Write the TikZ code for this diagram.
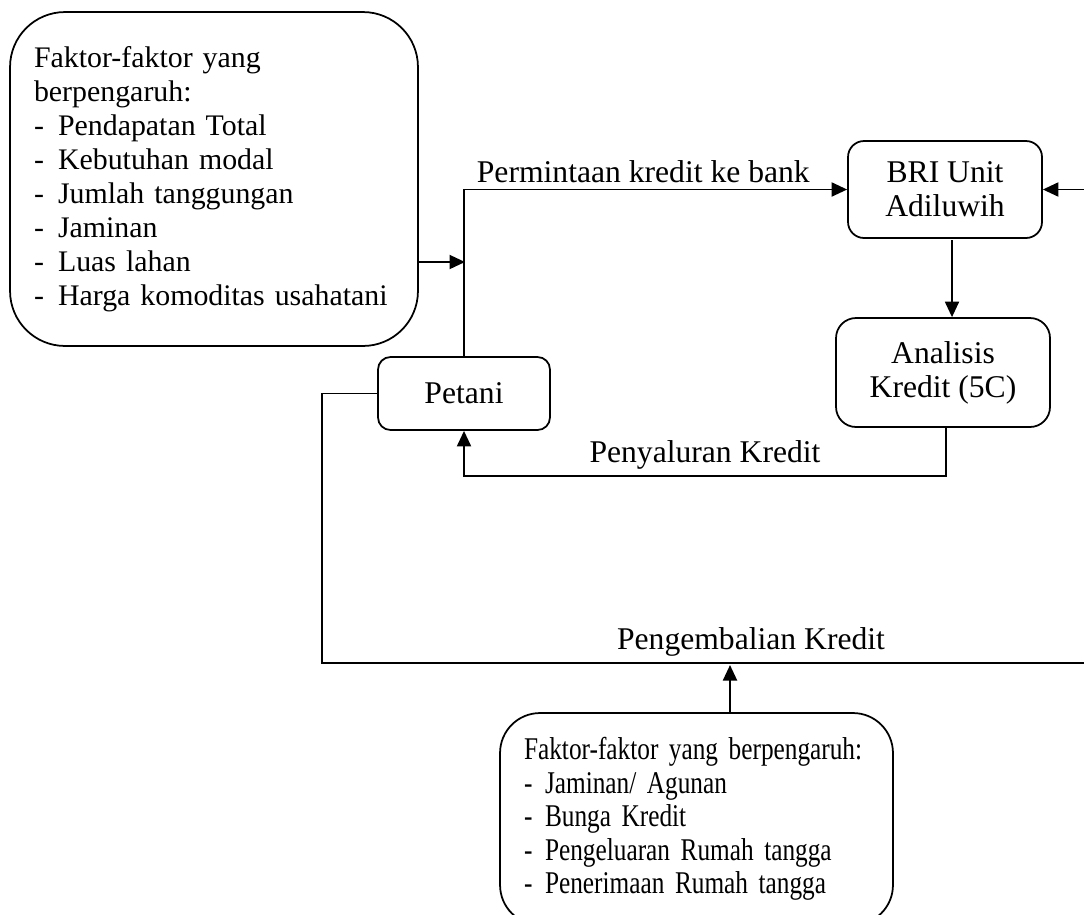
\documentclass[tikz,border=0pt]{standalone}
\usepackage{fontspec}
\setmainfont{Liberation Serif}
\newfontfamily\sempit[FakeStretch=0.8]{Liberation Serif}
\usepackage{tikz}
\usetikzlibrary{arrows.meta,positioning,calc}
\newcommand{\butir}[1][0.48cm]{\makebox[#1][l]{-}}

\begin{document}
\begin{tikzpicture}[x=0.02cm, y=-0.02cm,
  kotak/.style={draw, line width=1pt, align=left, font=\fontsize{18}{19.35}\selectfont},
  panah/.style={-{Triangle[length=0.31cm, width=0.28cm]}, line width=1.1pt},
  label/.style={font=\fontsize{18}{19.35}\selectfont}]
  \useasboundingbox (0,0) rectangle (1084,914);

  % Faktor permintaan kredit
  \node[kotak, font=\fontsize{17}{19.35}\selectfont, rounded corners=1.1cm, text width=7.2cm, inner xsep=0.48cm, minimum height=6.68cm] (faktorA) at (214,179) {Faktor-faktor yang\\berpengaruh:\\\butir Pendapatan Total\\\butir Kebutuhan modal\\\butir Jumlah tanggungan\\\butir Jaminan\\\butir Luas lahan\\\butir Harga komoditas usahatani};

  % Petani dan bank
  \node[kotak, align=center, rounded corners=0.25cm, minimum width=3.44cm, minimum height=1.46cm] (petani) at (464,393.5) {Petani};
  \node[kotak, align=center, rounded corners=0.32cm, minimum width=3.88cm, minimum height=1.94cm] (bri) at (945,189.5) {BRI Unit\\Adiluwih};
  \node[kotak, align=center, rounded corners=0.4cm, minimum width=4.28cm, minimum height=2.18cm] (analisis) at (943,372.5) {Analisis\\Kredit (5C)};

  % Faktor pengembalian kredit
  \node[kotak, font=\sempit\fontsize{18}{19}\selectfont, rounded corners=0.8cm, text width=6.9cm, inner xsep=0.48cm, minimum height=4.24cm] (faktorB) at (696.5,819) {Faktor-faktor yang berpengaruh:\\\butir[0.42cm]Jaminan/ Agunan\\\butir[0.42cm]Bunga Kredit\\\butir[0.42cm]Pengeluaran Rumah tangga\\\butir[0.42cm]Penerimaan Rumah tangga};

  \coordinate (masuk) at (465,262);
  \coordinate (turun) at (952,240);
  \coordinate (salur) at (946,476);
  \coordinate (kembaliA) at (322,663);
  \coordinate (kembaliB) at (1095,663);
  \coordinate (naik) at (730,665);

  % Arrows
  \draw[panah] (faktorA.east |- masuk) -- (masuk);
  \draw[panah] (petani.north) |- (bri.west) node[pos=0.734, above, label] {Permintaan kredit ke bank};
  \draw[panah] (turun) -- (turun |- analisis.north);
  \draw[panah] (analisis.south -| salur) -- (salur) -| (petani.south) node[pos=0.25, above, label] {Penyaluran Kredit};
  \draw[panah] (petani.west) -| (kembaliA) -- (kembaliB) node[pos=0.555, above, label] {Pengembalian Kredit} |- (bri.east);
  \draw[panah] (faktorB.north -| naik) -- (naik);
\end{tikzpicture}
\end{document}
